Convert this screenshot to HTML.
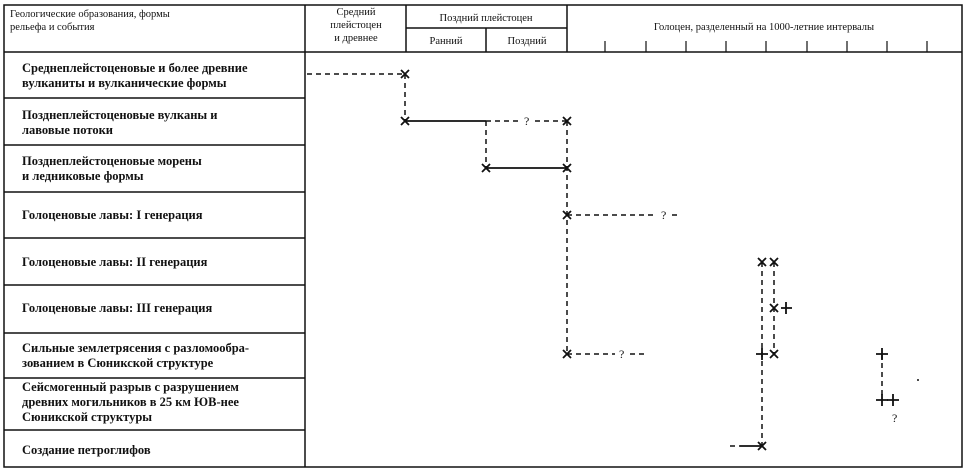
<!DOCTYPE html>
<html><head><meta charset="utf-8"><style>
html,body{margin:0;padding:0;background:#fff;}
svg{display:block;}
text{font-family:"Liberation Serif",serif;fill:#111;}
</style></head><body>
<svg width="966" height="470" viewBox="0 0 966 470" xmlns="http://www.w3.org/2000/svg">
<g stroke="#111" stroke-width="1.5" fill="none">
<rect x="4" y="5" width="958" height="462"/>
<line x1="305" y1="5" x2="305" y2="467"/>
<line x1="406" y1="5" x2="406" y2="52"/>
<line x1="567" y1="5" x2="567" y2="52"/>
<line x1="486" y1="28" x2="486" y2="52"/>
<line x1="406" y1="28" x2="567" y2="28"/>
<line x1="4" y1="52" x2="962" y2="52"/>
<line x1="4" y1="98" x2="305" y2="98"/>
<line x1="4" y1="145" x2="305" y2="145"/>
<line x1="4" y1="192" x2="305" y2="192"/>
<line x1="4" y1="238" x2="305" y2="238"/>
<line x1="4" y1="285" x2="305" y2="285"/>
<line x1="4" y1="333" x2="305" y2="333"/>
<line x1="4" y1="378" x2="305" y2="378"/>
<line x1="4" y1="430" x2="305" y2="430"/>
</g>
<g stroke="#111" stroke-width="1.2">
<line x1="605" y1="41" x2="605" y2="52"/><line x1="646" y1="41" x2="646" y2="52"/>
<line x1="686" y1="41" x2="686" y2="52"/><line x1="726" y1="41" x2="726" y2="52"/>
<line x1="766" y1="41" x2="766" y2="52"/><line x1="807" y1="41" x2="807" y2="52"/>
<line x1="847" y1="41" x2="847" y2="52"/><line x1="887" y1="41" x2="887" y2="52"/>
<line x1="927" y1="41" x2="927" y2="52"/>
</g>
<g font-size="10.5">
<text x="10" y="17">Геологические образования, формы</text>
<text x="10" y="30">рельефа и события</text>
<text x="356" y="15" text-anchor="middle">Средний</text>
<text x="356" y="28" text-anchor="middle">плейстоцен</text>
<text x="356" y="41" text-anchor="middle">и древнее</text>
<text x="486" y="21" text-anchor="middle">Поздний плейстоцен</text>
<text x="446" y="44" text-anchor="middle">Ранний</text>
<text x="527" y="44" text-anchor="middle">Поздний</text>
<text x="764" y="30" text-anchor="middle">Голоцен, разделенный на 1000-летние интервалы</text>
</g>
<g font-size="12.5" font-weight="bold" style="font-weight:600">
<text x="22" y="72">Среднеплейстоценовые и более древние</text>
<text x="22" y="87">вулканиты и вулканические формы</text>
<text x="22" y="119">Позднеплейстоценовые вулканы и</text>
<text x="22" y="134">лавовые потоки</text>
<text x="22" y="165">Позднеплейстоценовые морены</text>
<text x="22" y="180">и ледниковые формы</text>
<text x="22" y="219">Голоценовые лавы: I генерация</text>
<text x="22" y="266">Голоценовые лавы: II генерация</text>
<text x="22" y="312">Голоценовые лавы: III генерация</text>
<text x="22" y="352">Сильные землетрясения с разломообра-</text>
<text x="22" y="367">зованием в Сюникской структуре</text>
<text x="22" y="391">Сейсмогенный разрыв с разрушением</text>
<text x="22" y="406">древних могильников в 25 км ЮВ-нее</text>
<text x="22" y="421">Сюникской структуры</text>
<text x="22" y="454">Создание петроглифов</text>
</g>
<g stroke="#111" stroke-width="1.5" fill="none" stroke-dasharray="5,4">
<line x1="307" y1="74" x2="405" y2="74"/>
<line x1="405" y1="74" x2="405" y2="121"/>
<line x1="486" y1="121" x2="520" y2="121"/><line x1="535" y1="121" x2="567" y2="121"/>
<line x1="486" y1="121" x2="486" y2="168"/>
<line x1="567" y1="121" x2="567" y2="354"/>
<line x1="567" y1="215" x2="655" y2="215"/><line x1="672" y1="215" x2="679" y2="215"/>
<line x1="567" y1="354" x2="615" y2="354"/><line x1="630" y1="354" x2="646" y2="354"/>
<line x1="762" y1="262" x2="762" y2="446"/>
<line x1="774" y1="262" x2="774" y2="354"/>
<line x1="882" y1="354" x2="882" y2="400"/>
<line x1="730" y1="446" x2="740" y2="446"/>
</g>
<g stroke="#111" stroke-width="1.8" fill="none">
<line x1="405" y1="121" x2="486" y2="121"/>
<line x1="486" y1="168" x2="567" y2="168"/>
<line x1="740" y1="446" x2="762" y2="446"/>
</g>
<g stroke="#111" stroke-width="1.8">
<path d="M401 70l8 8M409 70l-8 8"/>
<path d="M401 117l8 8M409 117l-8 8"/>
<path d="M563 117l8 8M571 117l-8 8"/>
<path d="M482 164l8 8M490 164l-8 8"/>
<path d="M563 164l8 8M571 164l-8 8"/>
<path d="M563 211l8 8M571 211l-8 8"/>
<path d="M563 350l8 8M571 350l-8 8"/>
<path d="M758 258l8 8M766 258l-8 8"/>
<path d="M770 258l8 8M778 258l-8 8"/>
<path d="M770 304l8 8M778 304l-8 8"/>
<path d="M770 350l8 8M778 350l-8 8"/>
<path d="M758 442l8 8M766 442l-8 8"/>
<path d="M781 308h11M786 302v12"/>
<path d="M756 354h12M762 348v12"/>
<path d="M876 354h12M882 348v12"/>
<path d="M876 400h12M882 394v12"/>
<path d="M887 400h12M893 394v12"/>
</g>
<g font-size="12">
<text x="524" y="125">?</text>
<text x="661" y="219">?</text>
<text x="619" y="358">?</text>
<text x="892" y="422">?</text>
</g>
<circle cx="918" cy="380" r="1" fill="#111"/>
</svg>
</body></html>
